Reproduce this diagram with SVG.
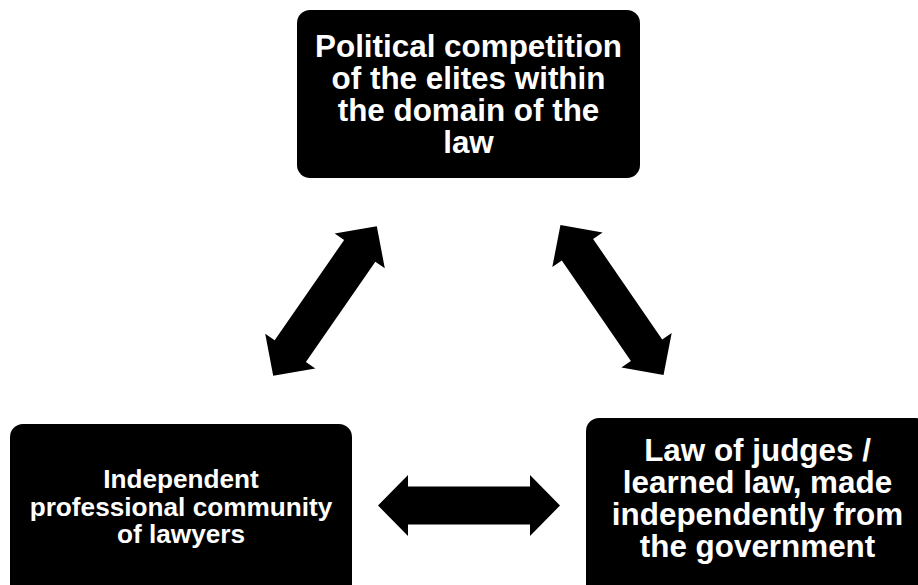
<svg xmlns="http://www.w3.org/2000/svg" width="918" height="585" viewBox="0 0 918 585">
<style>
.box{fill:#000}
.t{fill:#fff;font-family:"Liberation Sans",Arial,sans-serif;font-weight:bold;text-anchor:middle}
.arr{fill:#000}
</style>
<defs>
<path id="dblArrow" d="M -91,0 L -61,-30.5 L -61,-19 L 61,-19 L 61,-30.5 L 91,0 L 61,30.5 L 61,19 L -61,19 L -61,30.5 Z"/>
</defs>
<rect width="918" height="585" fill="#fff"/>
<g id="connectors" class="arr">
<use href="#dblArrow" transform="translate(325,301) rotate(-55.3)"/>
<use href="#dblArrow" transform="translate(612,300) rotate(55.5)"/>
<use href="#dblArrow" transform="translate(469,505.5)"/>
</g>
<g id="node-political">
<rect class="box" x="297" y="10" width="343" height="168" rx="13"/>
<text class="t" font-size="31.4"><tspan x="468.5" y="57">Political competition</tspan><tspan x="468.5" y="89">of the elites within</tspan><tspan x="468.5" y="121">the domain of the</tspan><tspan x="468.5" y="153">law</tspan></text>
</g>
<g id="node-lawyers">
<rect class="box" x="10" y="424" width="342" height="200" rx="13"/>
<text class="t" font-size="26.2"><tspan x="181" y="488">Independent</tspan><tspan x="181" y="516">professional community</tspan><tspan x="181" y="543">of lawyers</tspan></text>
</g>
<g id="node-judges">
<rect class="box" x="586" y="418" width="343" height="200" rx="13"/>
<text class="t" font-size="31.4"><tspan x="757.5" y="461">Law of judges /</tspan><tspan x="757.5" y="493">learned law, made</tspan><tspan x="757.5" y="525">independently from</tspan><tspan x="757.5" y="557">the government</tspan></text>
</g>
</svg>
